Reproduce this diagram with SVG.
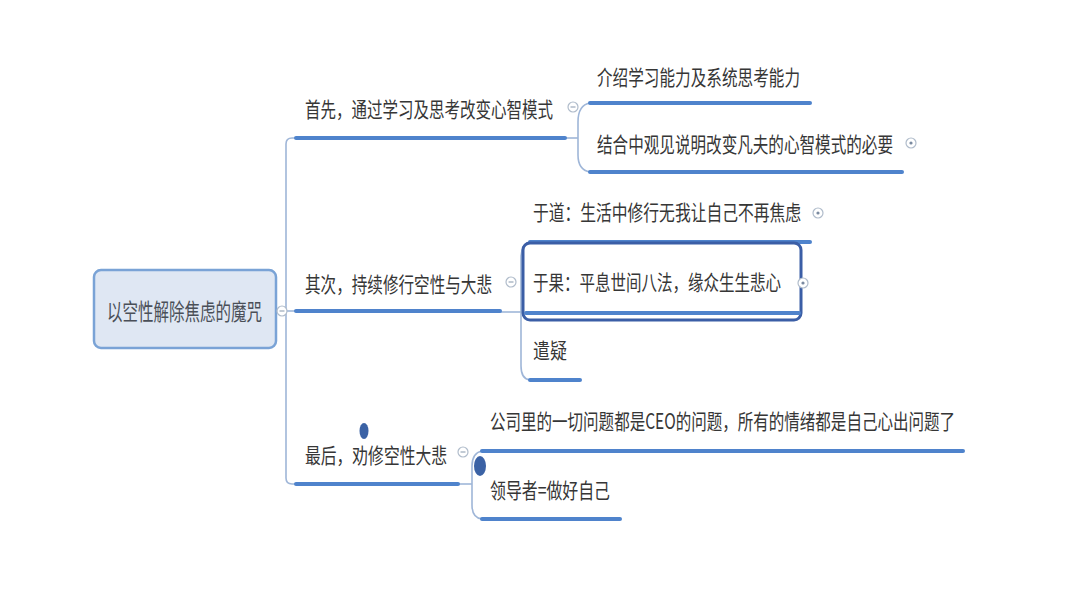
<svg xmlns="http://www.w3.org/2000/svg" width="1080" height="608" viewBox="0 0 1080 608">
<style>
  .t { font-family: "Noto Sans CJK SC", "Liberation Sans", sans-serif; font-size: 21px; fill: #363636; }
  .ul { stroke: #4f83cc; stroke-width: 4; stroke-linecap: round; fill: none; }
  .cn { stroke: #9fb6d8; stroke-width: 1.6; fill: none; }
  .tg { fill: #ffffff; stroke: #b0bccb; stroke-width: 1.2; }
  .tgl { stroke: #9aa8ba; stroke-width: 1.2; }
</style>
<rect width="1080" height="608" fill="#ffffff"/>

<g id="connectors">
  <path class="cn" d="M 286 311 L 286 144 Q 286 138 292 138 L 296 138"/>
  <path class="cn" d="M 286 311 L 286 478 Q 286 484 292 484 L 296 484"/>
  <path class="cn" d="M 276 311 L 296 311"/>
  <path class="cn" d="M 565 138 L 578 138"/>
  <path class="cn" d="M 590 103 Q 578 105 578 122 L 578 155 Q 578 170 590 172"/>
  <path class="cn" d="M 500 312 L 521 312"/>
  <path class="cn" d="M 530 242 Q 521 244 521 258 L 521 366 Q 521 379 530 380"/>
  <path class="cn" d="M 458 484 L 472 484"/>
  <path class="cn" d="M 482 451 Q 472 453 472 466 L 472 505 Q 472 518 482 519"/>
</g>

<g id="root">
  <rect x="94" y="270" width="182" height="78" rx="7" fill="#dfe7f3" stroke="#7aa3d6" stroke-width="2.5"/>
  <text class="t" x="107" y="320" textLength="155" lengthAdjust="spacingAndGlyphs" style="fill:#4a4f58;font-size:23px">以空性解除焦虑的魔咒</text>
  <circle class="tg" cx="282" cy="311" r="5"/>
  <line class="tgl" x1="279.5" y1="311" x2="284.5" y2="311"/>
</g>

<g id="b1">
  <text class="t" x="305" y="117" textLength="248" lengthAdjust="spacingAndGlyphs">首先，通过学习及思考改变心智模式</text>
  <line class="ul" x1="296" y1="138" x2="565" y2="138"/>
  <circle class="tg" cx="573" cy="107" r="5"/>
  <line class="tgl" x1="570.5" y1="107" x2="575.5" y2="107"/>
</g>

<g id="b1c1">
  <text class="t" x="597" y="85" textLength="203" lengthAdjust="spacingAndGlyphs">介绍学习能力及系统思考能力</text>
  <line class="ul" x1="590" y1="103" x2="810" y2="103"/>
</g>

<g id="b1c2">
  <text class="t" x="597" y="152" textLength="296" lengthAdjust="spacingAndGlyphs">结合中观见说明改变凡夫的心智模式的必要</text>
  <line class="ul" x1="590" y1="172" x2="902" y2="172"/>
  <circle class="tg" cx="911" cy="143" r="5"/>
  <circle cx="911" cy="143" r="1.6" fill="#7a8aa0"/>
</g>

<g id="b2">
  <text class="t" x="305" y="292" textLength="187" lengthAdjust="spacingAndGlyphs">其次，持续修行空性与大悲</text>
  <line class="ul" x1="296" y1="311" x2="500" y2="311"/>
  <circle class="tg" cx="511" cy="282" r="5"/>
  <line class="tgl" x1="508.5" y1="282" x2="513.5" y2="282"/>
</g>

<g id="b2c1">
  <text class="t" x="533" y="220" textLength="268" lengthAdjust="spacingAndGlyphs">于道：生活中修行无我让自己不再焦虑</text>
  <line class="ul" x1="530" y1="242" x2="810" y2="242"/>
  <circle class="tg" cx="818" cy="213" r="5"/>
  <circle cx="818" cy="213" r="1.6" fill="#7a8aa0"/>
</g>

<g id="b2c2">
  <rect x="523" y="243" width="278" height="77" rx="7" fill="none" stroke="#3b5ea6" stroke-width="3"/>
  <text class="t" x="533" y="290" textLength="248" lengthAdjust="spacingAndGlyphs">于果：平息世间八法，缘众生生悲心</text>
  <line class="ul" x1="526" y1="313" x2="799" y2="313"/>
  <circle class="tg" cx="803" cy="283" r="5"/>
  <circle cx="803" cy="283" r="1.6" fill="#7a8aa0"/>
</g>

<g id="b2c3">
  <text class="t" x="533" y="358" textLength="34" lengthAdjust="spacingAndGlyphs">遣疑</text>
  <line class="ul" x1="530" y1="380" x2="580" y2="380"/>
</g>

<g id="b3">
  <text class="t" x="305" y="463" textLength="142" lengthAdjust="spacingAndGlyphs">最后，劝修空性大悲</text>
  <line class="ul" x1="296" y1="484" x2="458" y2="484"/>
  <circle class="tg" cx="463" cy="452" r="5"/>
  <line class="tgl" x1="460.5" y1="452" x2="465.5" y2="452"/>
  <ellipse cx="364" cy="431" rx="4.5" ry="8" fill="#3b62a5"/>
</g>

<g id="b3c1">
  <text class="t" x="490" y="429" textLength="465" lengthAdjust="spacingAndGlyphs">公司里的一切问题都是CEO的问题，所有的情绪都是自己心出问题了</text>
  <line class="ul" x1="482" y1="451" x2="963" y2="451"/>
</g>

<g id="b3c2">
  <ellipse cx="480" cy="466" rx="6" ry="10" fill="#3b62a5"/>
  <text class="t" x="490" y="498" textLength="120" lengthAdjust="spacingAndGlyphs">领导者=做好自己</text>
  <line class="ul" x1="482" y1="519" x2="620" y2="519"/>
</g>
</svg>
